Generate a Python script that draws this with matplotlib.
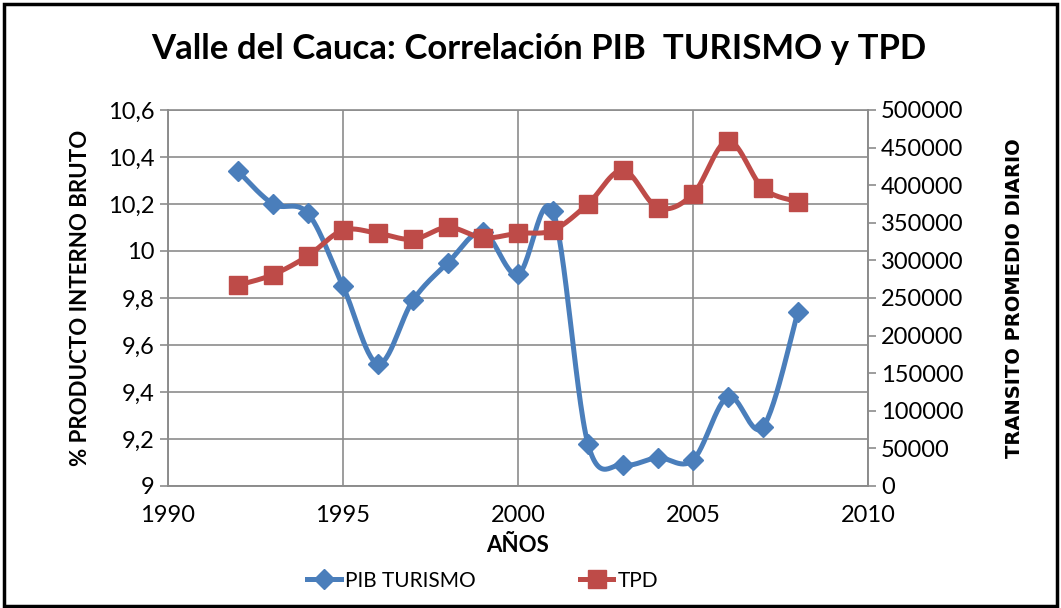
import numpy as np
import matplotlib
matplotlib.use("Agg")
import matplotlib.pyplot as plt
from matplotlib.ticker import FuncFormatter
from matplotlib.patches import Rectangle

years = [1992, 1993, 1994, 1995, 1996, 1997, 1998, 1999, 2000,
         2001, 2002, 2003, 2004, 2005, 2006, 2007, 2008]
pib_turismo = [10.34, 10.20, 10.16, 9.85, 9.52, 9.79, 9.95, 10.08, 9.90,
               10.17, 9.18, 9.09, 9.12, 9.11, 9.38, 9.25, 9.74]
tpd = [267000, 281000, 306000, 340000, 336000, 328000, 344000, 330000, 336000,
       340000, 375000, 420000, 370000, 388000, 459000, 396000, 378000]

plt.rcParams['font.family'] = ['Lato', 'DejaVu Sans']


def smooth(x, y, n=30):
    # Excel-style smoothed line (Catmull-Rom through the points)
    x = np.asarray(x, float)
    y = np.asarray(y, float)
    px = np.concatenate([[x[0]], x, [x[-1]]])
    py = np.concatenate([[y[0]], y, [y[-1]]])
    xs, ys = [], []
    t = np.linspace(0, 1, n)
    for i in range(1, len(px) - 2):
        p0x, p1x, p2x, p3x = px[i-1:i+3]
        p0y, p1y, p2y, p3y = py[i-1:i+3]
        c1x, c1y = p1x + (p2x - p0x) / 6, p1y + (p2y - p0y) / 6
        c2x, c2y = p2x - (p3x - p1x) / 6, p2y - (p3y - p1y) / 6
        bx = (1-t)**3*p1x + 3*(1-t)**2*t*c1x + 3*(1-t)*t**2*c2x + t**3*p2x
        by = (1-t)**3*p1y + 3*(1-t)**2*t*c1y + 3*(1-t)*t**2*c2y + t**3*p2y
        xs.append(bx)
        ys.append(by)
    return np.concatenate(xs), np.concatenate(ys)


blue = "#4A7EBB"
red = "#BE4B48"
grid_c = "#8C8C8C"

fig = plt.figure(figsize=(10.61, 6.08), dpi=100)
fig.patches.append(Rectangle((0.004, 0.003), 0.992, 0.99, transform=fig.transFigure,
                             fill=False, edgecolor="black", linewidth=2.5))

ax = fig.add_axes([0.1583, 0.2007, 0.6597, 0.6184])
ax2 = ax.twinx()

sx, sy = smooth(years, pib_turismo)
ax.plot(sx, sy, color=blue, lw=3.6, zorder=3)
ax.plot(years, pib_turismo, ls="none", marker="D", ms=10.5, color=blue, zorder=4)

sx2, sy2 = smooth(years, tpd)
ax2.plot(sx2, sy2, color=red, lw=3.6, zorder=3)
ax2.plot(years, tpd, ls="none", marker="s", ms=12.5, color=red, zorder=4)

ax.set_xlim(1990, 2010)
ax.set_ylim(9, 10.6)
ax2.set_ylim(0, 500000)
ax.set_xticks([1990, 1995, 2000, 2005, 2010])
ax.set_yticks(np.arange(9, 10.61, 0.2))
ax2.set_yticks(np.arange(0, 500001, 50000))
ax.yaxis.set_major_formatter(FuncFormatter(lambda v, p: f"{v:.1f}".replace(".", ",").replace(",0", "")))
ax2.yaxis.set_major_formatter(FuncFormatter(lambda v, p: f"{int(v)}"))

ax.grid(True, color=grid_c, lw=1.2)
ax.set_axisbelow(True)
for a in (ax, ax2):
    for s in a.spines.values():
        s.set_color(grid_c)
        s.set_linewidth(1.2)
    a.tick_params(colors=grid_c, labelcolor="black", labelsize=17, length=6, width=1.2)
ax.tick_params(axis="x", length=0, pad=14)
ax2.spines["top"].set_visible(False)

ax.set_xlabel("AÑOS", fontsize=16, fontweight="bold", labelpad=6)
ax.set_ylabel("% PRODUCTO INTERNO BRUTO", fontsize=16, fontweight="bold", labelpad=12)
ax2.set_ylabel("TRANSITO PROMEDIO DIARIO", fontsize=14, fontweight="bold",
               family=["Liberation Sans Narrow", "DejaVu Sans"], labelpad=30)

fig.suptitle("Valle del Cauca: Correlación PIB  TURISMO y TPD", x=0.508, y=0.945,
             fontsize=25, fontweight="bold")

h1, = ax.plot([], [], color=blue, lw=3.6, marker="D", ms=10.5)
h2, = ax.plot([], [], color=red, lw=3.6, marker="s", ms=12.5)
fig.legend([h1, h2], ["PIB TURISMO", "TPD"], loc="center", bbox_to_anchor=(0.455, 0.045),
           ncol=2, frameon=False, fontsize=15, columnspacing=5, handlelength=1.6,
           handletextpad=0.2)

fig.savefig("out.png", dpi=100)
